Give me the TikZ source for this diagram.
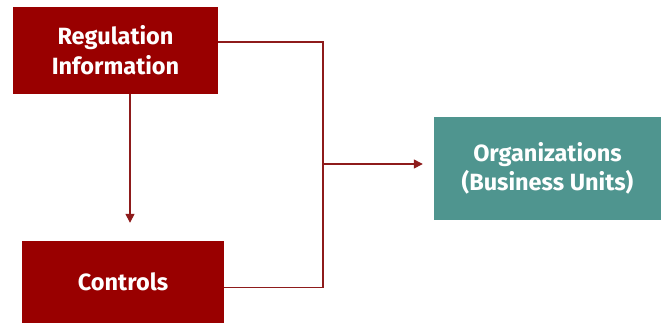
\documentclass[tikz,border=0pt]{standalone}
\usepackage{fontspec}
\setmainfont{Fira Sans}
\usepackage{tikz}
\usetikzlibrary{arrows.meta}
\definecolor{boxred}{HTML}{990000}
\definecolor{linered}{HTML}{8E1B1B}
\definecolor{boxteal}{HTML}{4F958F}

\begin{document}
\begin{tikzpicture}[
x=1pt, y=-1pt,
redbox/.style={fill=boxred, text=white, font=\bfseries\fontsize{23.5}{30}\selectfont, align=center, inner sep=0pt},
tealbox/.style={fill=boxteal, text=white, font=\bfseries\fontsize{23.5}{29}\selectfont, align=center, inner sep=0pt},
link/.style={draw=linered, line width=1.4pt},
]
\useasboundingbox (0,0) rectangle (665,322);
\clip (0,0) rectangle (665,322);
\node[redbox, minimum width=205pt, minimum height=87pt] (reginfo) at (115.5,50.5) {Regulation\\Information};
\node[redbox, minimum width=202pt, minimum height=82pt] (controls) at (123,282) {Controls};
\node[tealbox, minimum width=227pt, minimum height=103pt] (org) at (547.5,168.5) {Organizations\\(Business Units)};
\coordinate (join) at (323,164);
\draw[link] ([yshift=8.5pt]reginfo.east) -| (join);
\draw[link] ([yshift=-5.5pt]controls.east) -| (join);
\draw[link, -{Triangle[length=9pt, width=9pt]}] (join) -- ([yshift=4.5pt,xshift=-11pt]org.west);
\draw[link, -{Triangle[length=9pt, width=9pt]}] ([xshift=14.5pt]reginfo.south) -- ([xshift=7pt,yshift=18pt]controls.north);
\end{tikzpicture}
\end{document}
